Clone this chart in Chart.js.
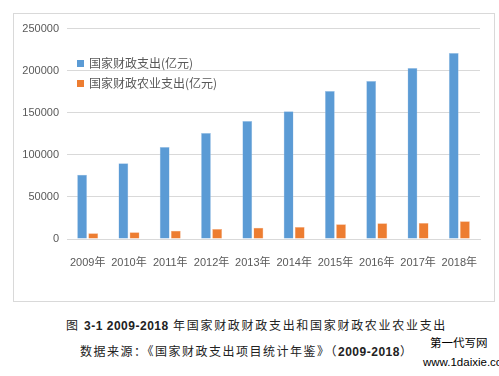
<!DOCTYPE html>
<html>
<head>
<meta charset="utf-8">
<script src="https://cdn.jsdelivr.net/npm/chart.js@4/dist/chart.umd.min.js"></script>
<style>
    body { margin: 0; background: #fff; width: 499px; height: 376px; overflow: hidden; position: relative; }
    #box { position: absolute; left: 13px; top: 13px; width: 482px; height: 289px; border: 1px solid #d9d9d9; box-sizing: border-box; }
    #wrap { position: absolute; left: 0; top: 0; width: 480px; height: 287px; }
    .legend { position: absolute; left: 63px; font: 12px "Noto Sans CJK SC", sans-serif; color: #595959; white-space: nowrap; }
    .legend i { display: inline-block; width: 7px; height: 7px; margin-right: 5px; vertical-align: 1px; }
    .cap { position: absolute; font-family: "Noto Sans CJK SC", sans-serif; color: #222; white-space: nowrap; line-height: 16px; }
    .cap b { font-family: "Liberation Sans", sans-serif; font-size: 12px; letter-spacing: 0.5px; }
</style>
</head>
<body>
<div id="box">
    <div id="wrap"><canvas id="chart"></canvas></div>
    <div class="legend" style="top:40px"><i style="background:#5B9BD5"></i>国家财政支出(亿元)</div>
    <div class="legend" style="top:60px"><i style="background:#ED7D31"></i>国家财政农业支出(亿元)</div>
</div>
<div class="cap" style="left:66px; top:317px; font-size:12px; letter-spacing:1.7px;">图 <b>3-1 2009-2018</b> 年国家财政财政支出和国家财政农业农业支出</div>
<div class="cap" style="left:80px; top:343px; font-size:12px; letter-spacing:1.5px;">数据来源：《国家财政支出项目统计年鉴》（<b>2009-2018</b>）</div>
<div class="cap" style="left:430px; top:334px; font-size:11.5px; color:#000;">第一代写网</div>
<div class="cap" style="left:423px; top:354px; font-size:11.5px; color:#000; font-family:'Liberation Sans Narrow','Liberation Sans',sans-serif;">www.1daixie.com</div>

<script>
const years = ['2009年', '2010年', '2011年', '2012年', '2013年', '2014年', '2015年', '2016年', '2017年', '2018年'];
const totalSpending = [76300, 89874, 109248, 125953, 140212, 151786, 175878, 187755, 203085, 220904];
const agriSpending = [6720, 8130, 9938, 11974, 13350, 14174, 17380, 18587, 19089, 21086];
const yTicks = [0, 50000, 100000, 150000, 200000, 250000];

const tickFont = { family: '"Liberation Sans", "Noto Sans CJK SC", sans-serif', size: 11 };

const ctx = document.getElementById('chart').getContext('2d');
const chart = new Chart(ctx, {
    type: 'bar',
    data: {
        labels: years,
        datasets: [{
            label: '国家财政支出(亿元)',
            data: totalSpending,
            backgroundColor: '#5B9BD5',
            borderColor: '#a9c9ea',
            borderWidth: 0.5
        }, {
            label: '国家财政农业支出(亿元)',
            data: agriSpending,
            backgroundColor: '#ED7D31',
            borderColor: '#f5b58c',
            borderWidth: 0.5
        }]
    },
    options: {
        responsive: true,
        maintainAspectRatio: false,
        animation: false,
        layout: { padding: { top: 13, right: 14, left: 0, bottom: 0 } },
        plugins: {
            legend: { display: false },
            tooltip: { enabled: false }
        },
        datasets: {
            bar: { categoryPercentage: 0.54, barPercentage: 0.88 }
        },
        scales: {
            x: {
                grid: { display: false },
                border: { color: '#d9d9d9' },
                ticks: { color: '#595959', font: tickFont, padding: 9, maxRotation: 0, autoSkip: false },
                afterFit: axis => { axis.height = 62; }
            },
            y: {
                min: 0,
                max: 250000,
                afterBuildTicks: axis => { axis.ticks = yTicks.map(v => ({ value: v })); },
                grid: { color: '#d9d9d9', drawTicks: false },
                border: { display: false },
                ticks: { color: '#595959', font: tickFont, padding: 8, callback: v => String(v) },
                afterFit: axis => { axis.width = 53; }
            }
        }
    }
});
</script>
</body>
</html>
